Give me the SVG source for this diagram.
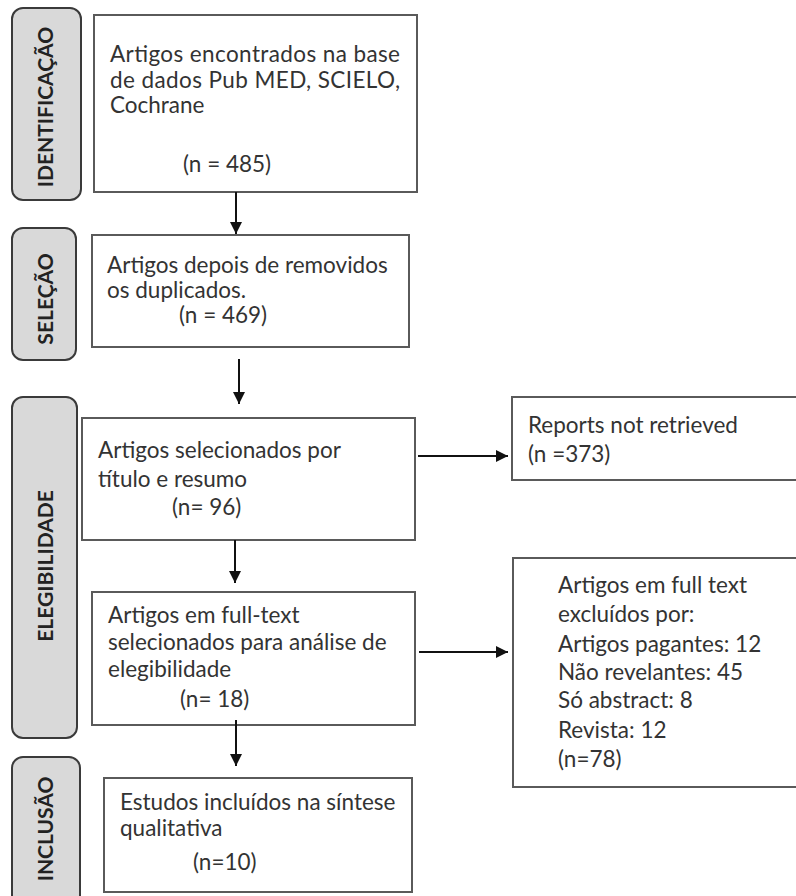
<svg xmlns="http://www.w3.org/2000/svg" width="796" height="896" viewBox="0 0 796 896">
<defs>
<marker id="ah" viewBox="0 0 10 10" refX="10" refY="5" markerWidth="6" markerHeight="6" markerUnits="strokeWidth" orient="auto">
<path d="M0,0 L10,5 L0,10 z" fill="#111"/>
</marker>
<style>
.stage{fill:#d9d9d9;stroke:#3a3a3a;stroke-width:2}
.stxt{font-family:Lato,"Liberation Sans",sans-serif;font-weight:bold;font-size:21px;fill:#222;text-anchor:middle}
.box{fill:#fff;stroke:#5a5a5a;stroke-width:2}
.t{font-family:Lato,"Liberation Sans",sans-serif;font-size:22.5px;fill:#333}
.c{stroke:#111;stroke-width:2;fill:none;marker-end:url(#ah)}
</style>
</defs>
<rect width="796" height="896" fill="#fff"/>
<g id="stage-identificacao"><rect class="stage" x="12" y="8" width="69" height="192" rx="11"/><text class="stxt" transform="translate(53,107) rotate(-90)">IDENTIFICAÇÃO</text></g>
<g id="stage-selecao"><rect class="stage" x="12" y="228" width="64" height="132" rx="11"/><text class="stxt" transform="translate(53,299) rotate(-90)">SELEÇÃO</text></g>
<g id="stage-elegibilidade"><rect class="stage" x="12" y="397" width="65" height="341" rx="11"/><text class="stxt" transform="translate(53,566) rotate(-90)">ELEGIBILIDADE</text></g>
<g id="stage-inclusao"><rect class="stage" x="12" y="757" width="68" height="150" rx="11"/><text class="stxt" transform="translate(53,829) rotate(-90)">INCLUSÃO</text></g>

<g id="box-identificacao"><rect class="box" x="94" y="15" width="323" height="177"/>
<text class="t"><tspan x="110" y="62" textLength="290" lengthAdjust="spacing">Artigos encontrados na base</tspan><tspan x="110" y="88" textLength="290" lengthAdjust="spacing">de dados Pub MED, SCIELO,</tspan><tspan x="110" y="113">Cochrane</tspan><tspan x="183" y="172">(n = 485)</tspan></text></g>

<g id="box-selecao"><rect class="box" x="92" y="235" width="317" height="112"/>
<text class="t"><tspan x="107" y="273">Artigos depois de removidos</tspan><tspan x="107" y="298">os duplicados.</tspan><tspan x="179" y="323">(n = 469)</tspan></text></g>

<g id="box-titulo"><rect class="box" x="82" y="418" width="333" height="122"/>
<text class="t"><tspan x="98" y="458">Artigos selecionados por</tspan><tspan x="98" y="487">título e resumo</tspan><tspan x="172" y="515">(n= 96)</tspan></text></g>

<g id="box-fulltext"><rect class="box" x="92" y="592" width="323" height="133"/>
<text class="t"><tspan x="108" y="623">Artigos em full-text</tspan><tspan x="108" y="650">selecionados para análise de</tspan><tspan x="108" y="677">elegibilidade</tspan><tspan x="180" y="707">(n= 18)</tspan></text></g>

<g id="box-inclusao"><rect class="box" x="104" y="778" width="308" height="114"/>
<text class="t"><tspan x="120" y="810">Estudos incluídos na síntese</tspan><tspan x="120" y="836">qualitativa</tspan><tspan x="193" y="870">(n=10)</tspan></text></g>

<g id="box-reports"><rect class="box" x="512" y="397" width="300" height="83"/>
<text class="t"><tspan x="528" y="433">Reports not retrieved</tspan><tspan x="528" y="462">(n =373)</tspan></text></g>

<g id="box-excluidos"><rect class="box" x="513" y="558" width="300" height="229"/>
<text class="t"><tspan x="558" y="593">Artigos em full text</tspan><tspan x="558" y="622">excluídos por:</tspan><tspan x="558" y="652">Artigos pagantes: 12</tspan><tspan x="558" y="680">Não revelantes: 45</tspan><tspan x="558" y="708">Só abstract: 8</tspan><tspan x="558" y="738">Revista: 12</tspan><tspan x="558" y="767">(n=78)</tspan></text></g>

<g id="connectors">
<line class="c" x1="236" y1="192" x2="236" y2="234"/>
<line class="c" x1="239" y1="359" x2="239" y2="404"/>
<line class="c" x1="235" y1="540" x2="235" y2="583"/>
<line class="c" x1="236" y1="720" x2="236" y2="766"/>
<line class="c" x1="418" y1="456" x2="508" y2="456"/>
<line class="c" x1="419" y1="652" x2="508" y2="652"/>
</g>
</svg>
